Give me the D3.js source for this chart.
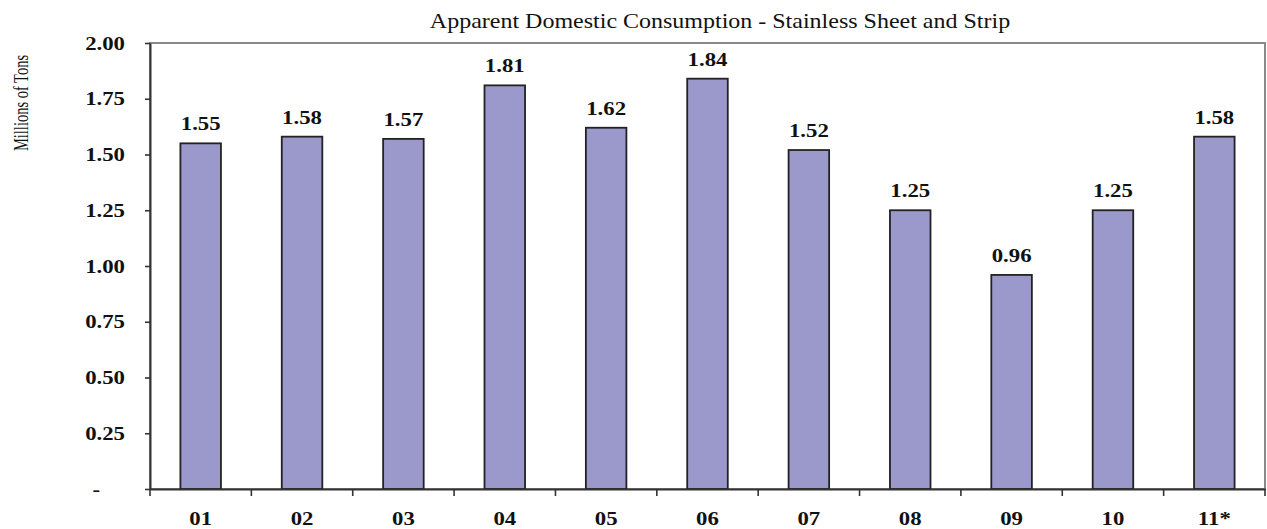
<!DOCTYPE html>
<html>
<head>
<meta charset="utf-8">
<script src="https://cdn.jsdelivr.net/npm/d3@7/dist/d3.min.js"></script>
<style>
  html, body { margin: 0; padding: 0; background: #fff; }
  svg { display: block; }
  text { font-family: "Liberation Serif", "Times New Roman", serif; fill: #111; }
</style>
</head>
<body>
<svg id="chart" width="1267" height="529"></svg>
<script>
// Apparent domestic consumption of stainless sheet and strip, millions of tons
const years = ["01", "02", "03", "04", "05", "06", "07", "08", "09", "10", "11*"];
const consumption = [1.55, 1.58, 1.57, 1.81, 1.62, 1.84, 1.52, 1.25, 0.96, 1.25, 1.58];
const yTicks = [0, 0.25, 0.5, 0.75, 1.0, 1.25, 1.5, 1.75, 2.0];
const chartTitle = "Apparent Domestic Consumption - Stainless Sheet and Strip";
const yTitle = "Millions of Tons";

const svg = d3.select("#chart");
const plot = { left: 150, right: 1265, top: 43, bottom: 489 };
const WIDE = 1.2;          // horizontal set width of the lettering
const BAR_FRAC = 0.4;      // bar width as a share of each category slot

const x = d3.scaleBand().domain(years).range([plot.left, plot.right]).padding(0);
const y = d3.scaleLinear().domain([0, 2]).range([plot.bottom, plot.top]);

// plot frame (top and right edges)
svg.append("rect")
  .attr("x", plot.left).attr("y", plot.top)
  .attr("width", plot.right - plot.left).attr("height", plot.bottom - plot.top)
  .attr("fill", "none").attr("stroke", "#8a8a8a").attr("stroke-width", 2);

// bars
svg.append("g").selectAll("rect")
  .data(years.map((yr, i) => ({ yr, v: consumption[i] })))
  .join("rect")
  .attr("x", d => x(d.yr) + x.bandwidth() * (1 - BAR_FRAC) / 2)
  .attr("width", x.bandwidth() * BAR_FRAC)
  .attr("y", d => y(d.v))
  .attr("height", d => y(0) - y(d.v))
  .attr("fill", "#9b99cc")
  .attr("stroke", "#222")
  .attr("stroke-width", 1.8);

// value labels
svg.append("g").selectAll("text")
  .data(years.map((yr, i) => ({ yr, v: consumption[i] })))
  .join("text")
  .attr("transform", d => `translate(${x(d.yr) + x.bandwidth() / 2},${y(d.v) - 13}) scale(${WIDE},1)`)
  .attr("text-anchor", "middle")
  .attr("font-size", 19)
  .attr("font-weight", "bold")
  .text(d => d.v.toFixed(2));

// y axis
const yAxis = svg.append("g")
  .attr("transform", `translate(${plot.left},0)`)
  .call(d3.axisLeft(y).tickValues(yTicks).tickSize(5).tickSizeOuter(0)
    .tickFormat(d => d === 0 ? "-" : d3.format(".2f")(d)));
yAxis.select(".domain").attr("stroke", "#333").attr("stroke-width", 2);
yAxis.selectAll(".tick line").attr("stroke", "#333").attr("stroke-width", 1.6);
yAxis.selectAll(".tick text")
  .attr("x", d => (d === 0 ? -50 : -25) / WIDE)
  .attr("transform", `scale(${WIDE},1)`)
  .attr("font-size", 19)
  .attr("font-weight", "bold")
  .attr("font-family", null)
  .attr("fill", "#111");

// x axis: category labels centred in slots, tick marks at slot edges
const xAxis = svg.append("g")
  .attr("transform", `translate(0,${plot.bottom})`)
  .call(d3.axisBottom(x).tickSize(0).tickSizeOuter(0));
xAxis.select(".domain").attr("stroke", "#333").attr("stroke-width", 2);
xAxis.selectAll(".tick text")
  .attr("y", 36)
  .attr("dy", 0)
  .attr("x", 0)
  .attr("transform", `scale(${WIDE},1)`)
  .attr("font-size", 19)
  .attr("font-weight", "bold")
  .attr("font-family", null)
  .attr("fill", "#111");
const edges = years.map(d => x(d)).concat([x.range()[1]]);
xAxis.selectAll("line.edge")
  .data(edges)
  .join("line")
  .attr("class", "edge")
  .attr("x1", d => d).attr("x2", d => d)
  .attr("y1", 0).attr("y2", 7)
  .attr("stroke", "#333").attr("stroke-width", 1.6);

// title
svg.append("text")
  .attr("transform", `translate(720,28) scale(${WIDE},1)`)
  .attr("text-anchor", "middle")
  .attr("font-size", 20)
  .text(chartTitle);

// y axis title
svg.append("text")
  .attr("transform", `translate(28,103) scale(1.4,1) rotate(-90)`)
  .attr("text-anchor", "middle")
  .attr("font-size", 14.5)
  .text(yTitle);
</script>
</body>
</html>
